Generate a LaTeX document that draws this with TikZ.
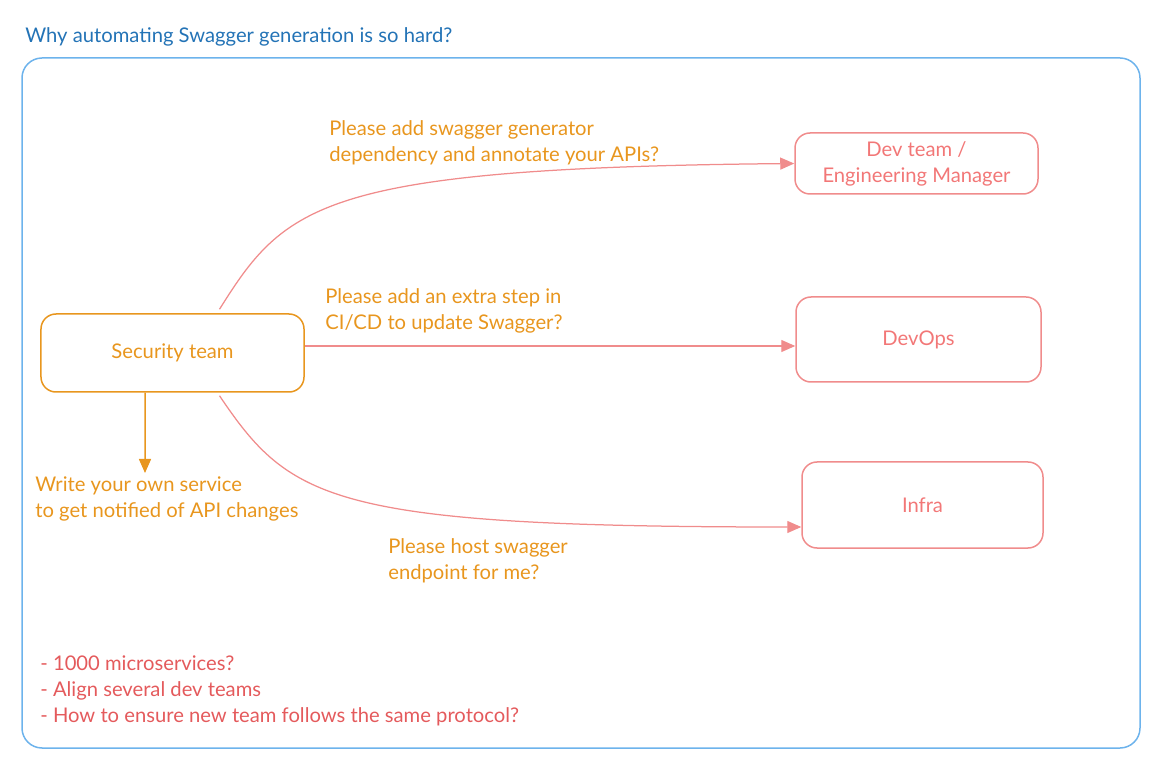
\documentclass[tikz,border=0pt]{standalone}
\usepackage{fontspec}
\setmainfont{Lato}
\usepackage{tikz}
\usetikzlibrary{calc,arrows.meta}
\definecolor{titleblue}{HTML}{2373B6}
\definecolor{frameblue}{HTML}{6DB3EC}
\definecolor{secorange}{HTML}{E8961E}
\definecolor{teampink}{HTML}{F08C8C}
\definecolor{notered}{HTML}{E45A5C}
\newcommand{\txt}{\fontsize{11.5}{14.8}\selectfont}

\begin{document}
\begin{tikzpicture}[x=0.2mm,y=-0.2mm,line join=round,
    team/.style={draw=teampink,text=teampink!85!red,rounded corners=3mm,line width=0.3mm,align=center,font=\txt},
    ask/.style={anchor=north west,inner sep=0pt,align=left,font=\txt},
    flow/.style={draw=teampink,line width=0.25mm,-{Triangle[length=2.8mm,width=2.4mm]}}]
  \useasboundingbox (0,0) rectangle (1166,762);
  % frame and title
  \draw[frameblue,line width=0.3mm,rounded corners=4mm] (22,58) rectangle (1140,748);
  \node[ask,text=titleblue] (title) at (25,27) {Why automating Swagger generation is so hard?};
  % boxes
  \node[draw=secorange,text=secorange,rounded corners=3mm,line width=0.3mm,font=\txt,
        minimum width=52.6mm,minimum height=15.6mm] (sec) at (172.5,353) {Security team};
  \node[team,minimum width=48.6mm,minimum height=12.2mm] (dev) at (916.5,163.5) {Dev team /\\Engineering Manager};
  \node[team,minimum width=49mm,minimum height=17mm] (devops) at (918.5,339.5) {DevOps};
  \node[team,minimum width=48.2mm,minimum height=17.2mm] (infra) at (922.5,505) {Infra};
  % requests
  \coordinate (s1) at ([xshift=9.4mm,yshift=0.8mm]sec.north);
  \coordinate (s3) at ([xshift=9.4mm,yshift=-0.6mm]sec.south);
  \draw[flow] (s1) .. controls (285,205) and (320,168) .. (dev.west);
  \draw[flow] ([yshift=1.4mm]sec.east) -- ([yshift=1.4mm]sec.east -| devops.west);
  \draw[flow] (s3) .. controls (290,500) and (330,527) .. ([yshift=-4.4mm]infra.west);
  \coordinate (w) at (145,473);
  \draw[secorange,line width=0.3mm,-{Triangle[length=2.8mm,width=2.4mm]}] ([xshift=-5.5mm]sec.south) -- (w);
  % labels
  \node[ask,text=secorange] (q1) at (329,120) {Please add swagger generator\\dependency and annotate your APIs?};
  \node[ask,text=secorange] (q2) at (325,288) {Please add an extra step in\\CI/CD to update Swagger?};
  \node[ask,text=secorange] (q3) at (388,538) {Please host swagger\\endpoint for me?};
  \node[ask,text=secorange] (own) at (35,476) {Write your own service\\to get notified of API changes};
  \node[ask,text=notered] (notes) at (40,655) {- 1000 microservices?\\- Align several dev teams\\- How to ensure new team follows the same protocol?};
\end{tikzpicture}
\end{document}
